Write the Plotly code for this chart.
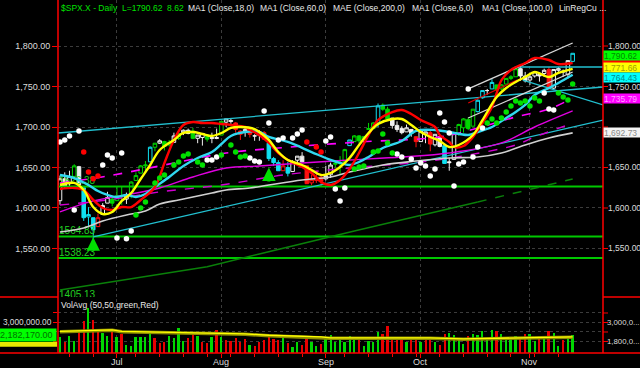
import plotly.graph_objects as go

FONT = "Liberation Sans, Arial, sans-serif"

# ------------------------------------------------------------------ data
month_ticks = [12, 34, 56, 76, 99]
month_labels = ["Jul", "Aug", "Sep", "Oct", "Nov"]
week_ticks = [2, 7, 12, 16, 21, 26, 31, 36, 41, 46, 51, 56, 60, 65, 70, 75, 80, 85, 90, 95, 100, 105]

price_ticks = [1550, 1600, 1650, 1700, 1750, 1800]
price_tick_text = ["1,550.00", "1,600.00", "1,650.00", "1,700.00", "1,750.00", "1,800.00"]
right_price_ticks = [1550, 1600, 1650, 1750, 1800]
right_price_text = ["1,550.00", "1,600.00", "1,650.00", "1,750.00", "1,800.00"]

vol_ticks = [1800000, 2400000, 3000000, 3600000]
vol_tick_text = ["", "", "3,000,000.00", ""]
vol_right_vals = [3000000, 1800000]
vol_right_text = ["3,000,0...", "1,800,0..."]

opens = [1609, 1636, 1630, 1639, 1651, 1625, 1589, 1588, 1577, 1592, 1606, 1611,
         1609, 1614, 1611, 1618, 1634, 1643, 1652, 1657, 1675, 1680, 1682, 1678, 1681, 1686, 1693, 1696, 1695, 1686, 1687, 1690, 1687, 1687,
         1690, 1706, 1708, 1705, 1695, 1694, 1696, 1689, 1690, 1693, 1680, 1661, 1656, 1646, 1650, 1645, 1659, 1664, 1652, 1631, 1634, 1638,
         1636, 1641, 1654, 1656, 1657, 1677, 1682, 1689, 1685, 1697, 1698, 1705, 1727, 1722, 1711, 1702, 1698, 1694, 1697, 1688,
         1682, 1691, 1693, 1678, 1688, 1677, 1657, 1660, 1691, 1699, 1709, 1701, 1719, 1736, 1745, 1747, 1752, 1747, 1753, 1760, 1762, 1772, 1763,
         1758, 1763, 1765, 1766, 1771, 1748, 1770, 1769, 1765, 1781]
highs = [1640, 1644, 1646, 1654, 1652, 1625, 1601, 1588, 1593, 1606, 1620, 1615,
         1627, 1627, 1619, 1633, 1644, 1653, 1658, 1676, 1680, 1685, 1683, 1684, 1693, 1693, 1697, 1698, 1699, 1690, 1692, 1691, 1693, 1698,
         1707, 1710, 1710, 1706, 1696, 1700, 1699, 1691, 1696, 1695, 1680, 1663, 1659, 1659, 1657, 1659, 1664, 1669, 1652, 1641, 1646, 1641,
         1652, 1656, 1658, 1664, 1673, 1684, 1690, 1690, 1689, 1705, 1706, 1729, 1729, 1725, 1711, 1707, 1701, 1703, 1697, 1688,
         1696, 1694, 1696, 1691, 1688, 1677, 1662, 1693, 1704, 1711, 1712, 1722, 1734, 1745, 1747, 1759, 1752, 1753, 1760, 1764, 1772, 1775, 1768,
         1765, 1768, 1767, 1772, 1774, 1771, 1774, 1771, 1782, 1791]
lows = [1604, 1624, 1627, 1639, 1628, 1584, 1578, 1560, 1577, 1592, 1606, 1602,
        1609, 1604, 1605, 1612, 1634, 1643, 1644, 1657, 1670, 1679, 1671, 1676, 1681, 1684, 1690, 1691, 1685, 1680, 1677, 1682, 1680, 1685,
        1690, 1700, 1704, 1693, 1684, 1688, 1687, 1683, 1683, 1685, 1658, 1652, 1646, 1646, 1639, 1645, 1654, 1656, 1630, 1628, 1631, 1627,
        1634, 1637, 1650, 1641, 1657, 1677, 1682, 1680, 1681, 1697, 1698, 1700, 1720, 1708, 1698, 1694, 1691, 1694, 1688, 1675,
        1682, 1680, 1670, 1676, 1675, 1655, 1646, 1660, 1689, 1693, 1696, 1701, 1718, 1735, 1740, 1747, 1740, 1745, 1752, 1758, 1762, 1757, 1755,
        1752, 1761, 1756, 1762, 1747, 1746, 1768, 1762, 1760, 1780]
closes = [1636, 1627, 1639, 1652, 1629, 1588, 1592, 1573, 1588, 1603, 1613, 1606,
          1615, 1614, 1615, 1632, 1640, 1652, 1653, 1675, 1680, 1683, 1676, 1681, 1689, 1692, 1696, 1692, 1686, 1690, 1692, 1685, 1686, 1686,
          1707, 1710, 1707, 1697, 1691, 1697, 1691, 1689, 1694, 1685, 1661, 1656, 1646, 1652, 1643, 1657, 1664, 1657, 1630, 1635, 1638, 1633,
          1640, 1653, 1655, 1655, 1672, 1684, 1689, 1683, 1688, 1698, 1705, 1726, 1722, 1710, 1702, 1697, 1693, 1699, 1692, 1682,
          1695, 1694, 1679, 1691, 1676, 1655, 1656, 1693, 1703, 1710, 1698, 1722, 1733, 1745, 1745, 1755, 1746, 1752, 1760, 1762, 1772, 1763, 1757,
          1762, 1768, 1763, 1770, 1747, 1771, 1772, 1768, 1782, 1791]
# paint-bar class of every candle (w=white, g=green, r=red, c=cyan)
bar_signal = ("wwwgw" "cccrwwg" "ggwgggg" "c" "gwggwgwwgwwgww" "g" "wwrrwrwwr"
              "cccrcwww" "rrrr" "wwgggcgggggcgg" "wwwwwrwwrwwcww" "ggggccwcggggg" "wwwwwwrwwwwc")

volume_m = [2.10, 1.79, 2.17, 1.83, 2.53, 3.09, 3.90, 3.16, 2.46, 2.32,
            2.17, 2.59, 2.10, 2.25, 1.58, 1.53, 2.10, 2.10, 2.10, 2.32,
            2.04, 1.69, 1.79, 2.17, 2.04, 2.63, 1.83, 2.04, 2.32, 2.17,
            1.79, 1.69, 2.10, 2.53, 2.10, 1.89, 1.83, 2.04, 1.79, 1.96,
            1.58, 1.53, 1.75, 1.89, 2.21, 1.96, 1.89, 2.04, 1.69, 1.47,
            1.79, 1.58, 2.10, 1.79,
            1.53, 1.64, 2.00, 2.21, 1.75, 1.89, 1.75, 2.15, 1.96, 1.96,
            1.53, 1.83, 1.79, 2.42, 2.25, 2.78, 1.94, 2.04, 2.00, 1.79,
            2.04, 2.04, 1.79, 1.94, 2.04, 1.79, 1.58, 2.25, 2.36, 2.21,
            1.94, 1.64, 2.15, 2.25, 2.21, 2.46, 1.94, 2.53, 2.46, 2.27,
            2.06, 2.00, 2.15, 2.00, 2.25, 2.25, 1.83, 1.96, 2.04, 2.46,
            2.32, 1.51, 1.89, 2.04, 2.18]
volume_dir = ("grggrrgrrggrgrggggggrrrggggrrgrrgrgrrrrrgrrrrrrgrggrrg"
              "grgggggggrggggrrrrrgrrgrrgrrggggrgggggrggggrrggrgrggrgg")
last_volume_text = "2,182,170.00"

vavg_idx = [0, 6, 11, 13, 20, 30, 32, 39, 44, 48, 55, 57, 78, 85, 91, 100, 108]
vavg_m = [2.42, 2.48, 2.51, 2.42, 2.38, 2.32, 2.27, 2.25, 2.17, 2.13, 2.07, 2.00, 2.00, 1.94, 1.98, 2.00, 2.07]

ma6_idx = [0, 3, 5, 7, 9, 11, 13, 15, 17, 19, 21, 24, 26, 28, 30, 32, 34, 36, 38, 41, 42, 44, 46, 48, 51, 53, 55,
           57, 59, 61, 63, 65, 67, 70, 72, 74, 76, 78, 80, 82, 84, 87, 89, 92, 94, 96, 98, 100, 103, 105, 108]
ma6_val = [1628.4, 1630.9, 1622.2, 1601.2, 1592.6, 1595.1, 1608.7, 1618.5, 1635.8, 1653.1,
           1671.6, 1684.0, 1692.6, 1693.8, 1691.4, 1688.9, 1692.6, 1698.8, 1700.0, 1697.5,
           1693.8, 1684.0, 1669.1, 1659.3, 1653.1, 1646.9, 1640.7, 1643.2, 1650.6, 1661.7,
           1677.8, 1692.6, 1703.7, 1709.9, 1709.9, 1702.5, 1693.8, 1687.7, 1682.7, 1675.3,
           1677.8, 1690.1, 1708.6, 1737.0, 1748.2, 1755.6, 1761.7, 1767.9, 1761.7, 1766.7, 1771.66]

red_idx = [0, 3, 5, 7, 9, 11, 13, 15, 17, 20, 22, 24, 26, 28, 30, 32, 34, 36, 39, 40, 42, 44, 46, 48, 51, 53, 55,
           57, 59, 61, 63, 65, 67, 70, 72, 74, 76, 79, 80, 82, 83, 85, 87, 89, 91, 92, 93, 95, 98, 100, 103, 105, 108]
red_val = [1623.5, 1624.7, 1622.2, 1609.9, 1600.0, 1597.5, 1601.2, 1601.2, 1609.9, 1625.9,
           1655.6, 1684.0, 1702.5, 1706.2, 1704.9, 1704.9, 1703.7, 1702.5, 1700.0, 1696.3,
           1690.1, 1680.3, 1667.9, 1659.3, 1650.6, 1643.2, 1632.1, 1628.4, 1634.6, 1648.1,
           1667.9, 1690.1, 1708.6, 1718.5, 1721.0, 1716.1, 1708.6, 1700.0, 1690.1, 1681.5,
           1675.3, 1676.5, 1687.7, 1704.9, 1724.7, 1742.0, 1758.0, 1770.4, 1779.0, 1785.2,
           1782.7, 1777.8, 1779.0]

ma18_idx = [0, 3, 6, 8, 10, 12, 14, 16, 18, 20, 23, 26, 29, 32, 34, 36, 39, 42, 44, 48, 53, 57, 59, 61, 63, 65,
            68, 72, 75, 79, 82, 86, 88, 91, 94, 96, 98, 100, 103, 105, 108]
ma18_val = [1640.7, 1637.0, 1628.4, 1621.0, 1616.1, 1613.6, 1616.1, 1613.6, 1617.3, 1625.9,
            1638.3, 1651.9, 1661.7, 1669.1, 1679.0, 1688.9, 1693.8, 1693.8, 1687.7, 1681.5,
            1669.1, 1659.3, 1655.6, 1653.1, 1656.8, 1663.0, 1674.1, 1682.7, 1695.1, 1696.3,
            1693.8, 1690.1, 1693.8, 1700.0, 1711.1, 1718.5, 1727.2, 1739.5, 1748.2, 1754.3, 1764.43]

ma100_idx = [0, 5, 9, 14, 18, 21, 25, 28, 32, 35, 40, 44, 51, 57, 61, 68, 75, 82, 88, 93, 98, 103, 108]
ma100_val = [1570.4, 1575.3, 1584.0, 1591.4, 1596.3, 1604.9, 1609.9, 1613.6, 1618.5, 1622.2, 1624.7, 1628.4,
             1634.6, 1638.3, 1644.4, 1653.1, 1658.0, 1661.7, 1663.0, 1667.9, 1677.8, 1686.4, 1692.73]

long_avg_idx = [0, 31, 62, 88]
long_avg_val = [1498.8, 1527.5, 1571.6, 1607.4]
long_avg_tail_idx = [88, 108]
long_avg_tail_val = [1607.4, 1635.8]

ma60_idx = [0, 7, 14, 21, 28, 35, 42, 51, 61, 72, 82, 93, 100, 108]
ma60_val = [1595.1, 1608.7, 1616.1, 1624.7, 1638.3, 1649.4, 1651.9, 1655.6, 1659.3, 1663.0, 1667.9, 1680.3, 1700.0, 1719.8]
env_up_idx = [0, 10, 21, 35, 46, 63, 80, 88, 96, 103, 108]
env_up_val = [1630.9, 1639.5, 1651.9, 1667.9, 1674.1, 1681.5, 1687.7, 1698.8, 1712.4, 1722.2, 1735.79]
env_lo_idx = [0, 10, 21, 34, 47, 61, 76, 86, 96, 100, 107]
env_lo_val = [1603.7, 1609.9, 1619.8, 1628.4, 1640.7, 1649.4, 1656.8, 1665.4, 1677.8, 1687.7, 1702.5]

# regression channel lines (start/end)
reg_long_up_x = [-0.4, 114.4]
reg_long_up_y = [1692.6, 1749.4]
reg_long_lo_x = [7, 114.4]
reg_long_lo_y = [1564.2, 1708.6]
reg_short_down_x = [97.5, 114.4]
reg_short_down_y = [1758.0, 1727.2]
reg_short_flat_x = [95.8, 114.4]
reg_short_flat_y = [1774.1, 1774.1]
reg_white_up_x = [86, 108]
reg_white_up_y = [1747.0, 1803.7]
reg_white_mid_x = [86, 108]
reg_white_mid_y = [1711.1, 1767.9]
reg_red_x = [86, 96.3]
reg_red_y = [1729.6, 1758.0]

support_levels = [1626.38, 1564.83, 1538.23]
support_text = ["1626.38", "1564.83", "1538.23"]
hidden_level_text = "1405.13"
hidden_level_val = 1486

signal_arrows_idx = [7, 44]
signal_arrows_tail = [1546, 1631]
signal_arrows_head = [1564, 1650]

white_dot_idx = [0, 1, 2, 4, 3, 9, 10, 11, 13, 12, 14, 15, 31, 32, 33, 40, 41, 42, 43, 44, 46, 47, 49, 50, 51, 56, 57,
                 58, 59, 60, 71, 72, 74, 75, 76, 77, 78, 79, 80, 81, 82, 83, 84, 85, 87, 88, 86, 89, 102, 103, 104]
white_dot_val = [1681.5, 1684.0, 1689.0, 1695.0, 1597.5, 1653.0, 1665.4, 1661.7, 1668.0, 1563.0, 1562.0, 1571.6,
                 1659.3, 1659.3, 1663.0, 1661.7, 1658.0, 1656.8, 1719.8, 1705.0, 1684.0, 1686.4, 1686.4, 1691.4,
                 1696.3, 1682.7, 1687.7, 1623.5, 1608.6, 1624.7, 1666.7, 1663.0, 1660.5, 1649.4, 1655.6, 1651.8,
                 1639.5, 1648.1, 1717.3, 1706.2, 1692.6, 1627.2, 1654.3, 1656.8, 1663.0, 1675.3, 1747.0, 1698.8,
                 1742.0, 1722.2, 1721.0]
red_dot_idx = [5, 6, 7, 8, 52, 54, 55]
red_dot_val = [1669.1, 1644.4, 1636.0, 1639.5, 1681.5, 1675.3, 1669.1]
green_dot_idx = [16, 17, 18, 20, 21, 22, 24, 25, 26, 27, 29, 30, 34, 36, 37, 38, 39, 62, 63, 64, 66, 67, 68, 69, 70,
                 90, 91, 92, 93, 94, 95, 96, 97, 98, 99, 100, 101, 105, 106, 107, 108]
green_dot_val = [1591.4, 1600.0, 1607.4, 1630.9, 1637.0, 1640.7, 1653.1, 1656.8, 1664.2, 1666.7,
                 1656.8, 1653.1, 1665.4, 1677.8, 1669.1, 1663.0, 1664.2,
                 1648.1, 1650.6, 1651.9, 1669.1, 1670.4, 1691.4, 1680.2, 1668.0,
                 1705.0, 1709.9, 1705.0, 1711.1, 1718.5, 1726.0, 1732.0, 1729.6, 1732.0, 1726.0, 1735.8, 1732.0,
                 1742.0, 1737.0, 1733.3, 1753.0]

header_texts = ["$SPX.X - Daily  L=1790.62  8.62", "MA1 (Close,18,0)", "MA1 (Close,60,0)",
                "MAE (Close,200,0)", "MA1 (Close,6,0)", "MA1 (Close,100,0)", "LinRegCu ..."]

last_value_labels = [  # (value, text, box colour, text colour, nudge px)
    (1790.62, "1,790.62", "#00ff00", "#008800", -2),
    (1771.66, "1,771.66", "#ffff00", "#a0a000", 1),
    (1764.43, "1,764.43", "#00ffff", "#008c8c", -3),
    (1735.79, "1,735.79", "#ff00ff", "#ffa0ff", 0),
    (1692.73, "1,692.73", "#f4f4f4", "#8a8a8a", 0),
]
hidden_red_label_range = [1777.0, 1785.0]

# ------------------------------------------------------------------ figure
bars = list(range(len(closes)))
W, H = 640, 368
ML, MR, MT, MB = 58, 37, 0, 15
PW, PH = W - ML - MR, H - MT - MB
main_dom = [(PH - 297) / PH, 1.0]
vol_dom = [0.0, (PH - 299) / PH]
x_range = [-0.42, 114.39]
y_range = [1490.1, 1856.8]
v_range = [1073000, 4484000]
FS = 9

fig = go.Figure()

# support levels
for lv in support_levels:
    fig.add_trace(go.Scatter(x=x_range, y=[lv, lv], mode="lines",
                             line=dict(color="#00c800", width=2), hoverinfo="skip"))
fig.add_trace(go.Scatter(x=[-0.2] * len(support_levels), y=support_levels, mode="text",
                         text=support_text, textposition="top right",
                         textfont=dict(color="#22d022", size=10, family=FONT), hoverinfo="skip"))
fig.add_trace(go.Scatter(x=[-0.2], y=[hidden_level_val], mode="text", text=[hidden_level_text],
                         textposition="top right", cliponaxis=True,
                         textfont=dict(color="#22d022", size=10, family=FONT), hoverinfo="skip"))

# long average (dark green)
fig.add_trace(go.Scatter(x=long_avg_idx, y=long_avg_val, mode="lines",
                         line=dict(color="#0a800a", width=1.5), hoverinfo="skip"))
fig.add_trace(go.Scatter(x=long_avg_tail_idx, y=long_avg_tail_val, mode="lines",
                         line=dict(color="#0a800a", width=1.5, dash="dash"), hoverinfo="skip"))

# regression channels
for xs, ys, col in [(reg_long_up_x, reg_long_up_y, "#22c0d0"), (reg_long_lo_x, reg_long_lo_y, "#22c0d0"),
                    (reg_short_down_x, reg_short_down_y, "#22c0d0"), (reg_short_flat_x, reg_short_flat_y, "#22c0d0"),
                    (reg_white_up_x, reg_white_up_y, "#d8d8d8"), (reg_white_mid_x, reg_white_mid_y, "#d8d8d8"),
                    (reg_red_x, reg_red_y, "#e00000")]:
    fig.add_trace(go.Scatter(x=xs, y=ys, mode="lines", line=dict(color=col, width=1.3), hoverinfo="skip"))

# envelope + 60 average (magenta)
fig.add_trace(go.Scatter(x=env_up_idx, y=env_up_val, mode="lines", line_shape="spline",
                         line=dict(color="#ff00ff", width=1.6, dash="dash"), hoverinfo="skip"))
fig.add_trace(go.Scatter(x=env_lo_idx, y=env_lo_val, mode="lines", line_shape="spline",
                         line=dict(color="#d000d0", width=1.4, dash="dash"), hoverinfo="skip"))
fig.add_trace(go.Scatter(x=ma60_idx, y=ma60_val, mode="lines", line_shape="spline",
                         line=dict(color="#e000e0", width=1.4), hoverinfo="skip"))

# 100 average (light grey)
fig.add_trace(go.Scatter(x=ma100_idx, y=ma100_val, mode="lines", line_shape="spline",
                         line=dict(color="#d0d0d0", width=1.6), hoverinfo="skip"))

# candles
SIG_COLORS = {"w": "#f0f0f0", "g": "#00d800", "r": "#ff1010", "c": "#10e0f0"}
for code, col in SIG_COLORS.items():
    ids = [i for i, s in enumerate(bar_signal) if s == code]
    fig.add_trace(go.Candlestick(
        x=ids, open=[opens[i] for i in ids], high=[highs[i] for i in ids],
        low=[lows[i] for i in ids], close=[closes[i] for i in ids],
        increasing=dict(line=dict(color=col, width=1), fillcolor="#000000"),
        decreasing=dict(line=dict(color=col, width=1), fillcolor=col),
        whiskerwidth=0, hoverinfo="skip", xaxis="x", yaxis="y"))

# short averages
fig.add_trace(go.Scatter(x=ma18_idx, y=ma18_val, mode="lines", line_shape="spline",
                         line=dict(color="#30d8f0", width=2.4), hoverinfo="skip"))
fig.add_trace(go.Scatter(x=red_idx, y=red_val, mode="lines", line_shape="spline",
                         line=dict(color="#ff0000", width=2.4), hoverinfo="skip"))
fig.add_trace(go.Scatter(x=ma6_idx, y=ma6_val, mode="lines", line_shape="spline",
                         line=dict(color="#ffff00", width=2.4), hoverinfo="skip"))

# dots
for xs, ys, col in [(white_dot_idx, white_dot_val, "#ffffff"), (red_dot_idx, red_dot_val, "#ff0000"),
                    (green_dot_idx, green_dot_val, "#00e000")]:
    fig.add_trace(go.Scatter(x=xs, y=ys, mode="markers",
                             marker=dict(color=col, size=5.5, line=dict(width=0)), hoverinfo="skip"))

# volume panel
VOL_COL = {"g": "#00d800", "r": "#e80000"}
fig.add_trace(go.Bar(x=bars, y=[v * 1e6 for v in volume_m],
                     marker=dict(color=[VOL_COL[d] for d in volume_dir], line=dict(width=0)),
                     width=0.42, xaxis="x", yaxis="y2", hoverinfo="skip"))
fig.add_trace(go.Scatter(x=vavg_idx, y=[v * 1e6 for v in vavg_m], mode="lines", xaxis="x", yaxis="y2",
                         line=dict(color="#8c8c00", width=3.5), hoverinfo="skip"))
fig.add_trace(go.Scatter(x=vavg_idx, y=[v * 1e6 + 25000 for v in vavg_m], mode="lines", xaxis="x", yaxis="y2",
                         line=dict(color="#ffff00", width=1.3), hoverinfo="skip"))

RED = "#ff0000"
GRID = "#3c3c3c"
TXT = "#dcdcdc"

fig.update_layout(
    width=W, height=H, margin=dict(l=ML, r=MR, t=MT, b=MB, autoexpand=False),
    paper_bgcolor="#000000", plot_bgcolor="#000000", showlegend=False,
    font=dict(family=FONT, color=TXT, size=FS),
    boxgap=0.25, boxgroupgap=0.0, bargap=0,
    xaxis=dict(domain=[0, 1], range=x_range, anchor="y2", tickmode="array",
               tickvals=month_ticks, ticktext=month_labels, showticklabels=False,
               ticks="outside", ticklen=4, tickcolor=RED, automargin=False,
               showgrid=True, gridcolor=GRID, griddash="dot", gridwidth=1,
               zeroline=False, showline=False, rangeslider=dict(visible=False),
               minor=dict(tickmode="array", tickvals=week_ticks, ticks="outside", ticklen=3,
                          tickcolor=RED, showgrid=False)),
    yaxis=dict(domain=main_dom, range=y_range, anchor="x", tickmode="array", tickvals=price_ticks,
               ticktext=price_tick_text, ticks="outside", ticklen=5, tickcolor=RED, automargin=False,
               tickfont=dict(color=TXT, size=FS, family=FONT), showgrid=True, gridcolor=GRID,
               griddash="dot", zeroline=False, showline=False),
    yaxis2=dict(domain=vol_dom, range=v_range, anchor="x", tickmode="array", tickvals=vol_ticks,
                ticktext=vol_tick_text, ticks="outside", ticklen=4, tickcolor=RED, automargin=False,
                tickfont=dict(color=TXT, size=8.3, family=FONT), showgrid=True, gridcolor=GRID,
                griddash="dot", zeroline=False, showline=False),
)

# frame lines
lx = -ML / PW
rx = 1 + MR / PW
y_sep = main_dom[0]
shapes = [
    dict(type="line", xref="paper", yref="paper", x0=0, x1=0, y0=0, y1=1, line=dict(color=RED, width=1.5)),
    dict(type="line", xref="paper", yref="paper", x0=1, x1=1, y0=0, y1=1, line=dict(color=RED, width=1.5)),
    dict(type="line", xref="paper", yref="paper", x0=lx, x1=0, y0=y_sep, y1=y_sep, line=dict(color=RED, width=1.5)),
    dict(type="line", xref="paper", yref="paper", x0=1, x1=rx, y0=y_sep, y1=y_sep, line=dict(color=RED, width=1.5)),
    dict(type="line", xref="paper", yref="paper", x0=lx, x1=rx, y0=0, y1=0, line=dict(color=RED, width=1.5)),
    dict(type="rect", xref="paper", yref="y2", x0=lx, x1=-1 / PW, y0=1460000, y1=1760000,
         fillcolor="#e8e800", line=dict(width=0)),
    dict(type="rect", xref="paper", yref="y", x0=1, x1=rx, y0=hidden_red_label_range[0],
         y1=hidden_red_label_range[1], fillcolor="#ff0000", line=dict(width=0)),
]
for v in price_ticks:
    shapes.append(dict(type="line", xref="paper", yref="y", x0=1, x1=1 + 5 / PW, y0=v, y1=v,
                       line=dict(color=RED, width=1)))
for v in vol_ticks:
    shapes.append(dict(type="line", xref="paper", yref="y2", x0=1, x1=1 + 5 / PW, y0=v, y1=v,
                       line=dict(color=RED, width=1)))
fig.update_layout(shapes=shapes)

ann = []
# header
header_px = [59, 186, 258, 331, 410, 480, 557]
for i, (t, px) in enumerate(zip(header_texts, header_px)):
    ann.append(dict(text=t, xref="paper", yref="paper", x=(px - ML) / PW, y=1 - 8 / PH,
                    xanchor="left", yanchor="middle", showarrow=False,
                    font=dict(color="#00e000" if i == 0 else "#e8e8e8", size=8.5, family=FONT)))
ann.append(dict(text="VolAvg (50,50,green,Red)", xref="paper", yref="paper", x=(59 - ML) / PW,
                y=(PH - 305) / PH, xanchor="left", yanchor="middle", showarrow=False,
                font=dict(color="#e8e8e8", size=8.5, family=FONT)))
# month labels
for v, t in zip(month_ticks, month_labels):
    ann.append(dict(text=t, xref="x", yref="paper", x=v, y=-8.5 / PH, xanchor="center", yanchor="middle",
                    showarrow=False, font=dict(color=TXT, size=FS, family=FONT)))
# right axis plain labels
for v, t in zip(right_price_ticks, right_price_text):
    ann.append(dict(text=t, xref="paper", yref="y", x=1, y=v, xanchor="left", yanchor="middle",
                    xshift=3, showarrow=False, font=dict(color=TXT, size=8.5, family=FONT)))
for v, t in zip(vol_right_vals, vol_right_text):
    ann.append(dict(text=t, xref="paper", yref="y2", x=1, y=v, xanchor="left", yanchor="middle",
                    xshift=2, showarrow=False, font=dict(color=TXT, size=7.8, family=FONT)))
# last-value boxes
for v, t, bg, fg, dy in last_value_labels:
    ann.append(dict(text=t, xref="paper", yref="y", x=1, y=v, xanchor="left", yanchor="middle",
                    yshift=dy, showarrow=False, bgcolor=bg, width=36, height=9, align="left",
                    borderpad=0, font=dict(color=fg, size=8.5, family=FONT)))
ann.append(dict(text=last_volume_text, xref="paper", yref="y2", x=0, y=volume_m[-1] * 1e6,
                xanchor="right", yanchor="middle", xshift=-1, showarrow=False, bgcolor="#00ff00",
                width=56, height=12, align="left", borderpad=0,
                font=dict(color="#007000", size=FS, family=FONT)))
# signal arrows
for xi, t0, t1 in zip(signal_arrows_idx, signal_arrows_tail, signal_arrows_head):
    ann.append(dict(text="", xref="x", yref="y", x=xi, y=t1, axref="x", ayref="y", ax=xi, ay=t0,
                    showarrow=True, arrowhead=2, arrowsize=0.9, arrowwidth=3, arrowcolor="#00e000"))
fig.update_layout(annotations=ann)

fig.write_html("out.html", config={"displayModeBar": False},
               post_script="document.body.style.margin='0';document.body.style.background='#000';")
